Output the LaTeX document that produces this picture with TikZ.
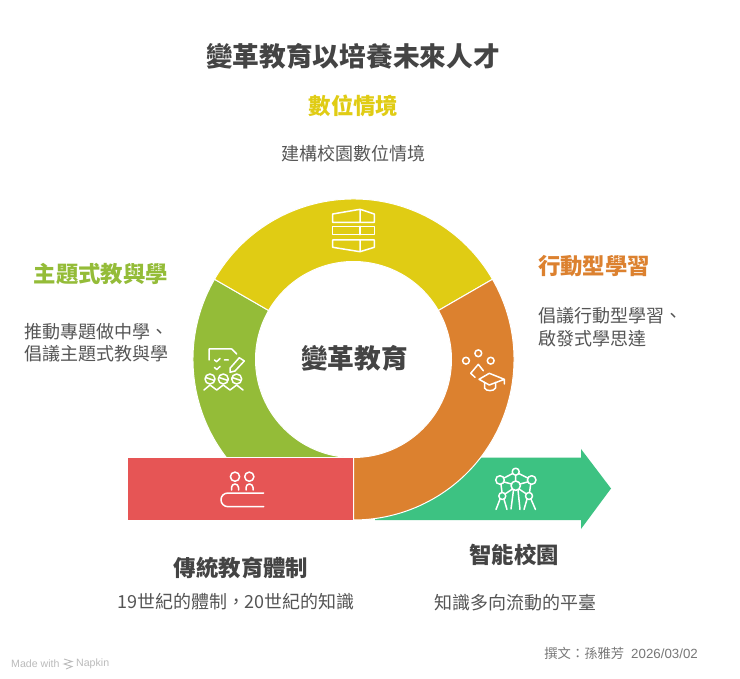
\documentclass[tikz,border=0pt]{standalone}
\usepackage{fontspec}
\setmainfont{Noto Sans CJK TC}
\newfontfamily\latinfont{Liberation Sans}
\definecolor{cyellow}{HTML}{E0CC14}
\definecolor{corange}{HTML}{DC812F}
\definecolor{cleaf}{HTML}{94BC38}
\definecolor{cred}{HTML}{E65555}
\definecolor{cgreen}{HTML}{3DC282}
\definecolor{ctitle}{HTML}{444444}
\definecolor{cbody}{HTML}{555555}
\definecolor{cfoot}{HTML}{777777}
\definecolor{cmade}{HTML}{BBBBBB}
\tikzset{
  seg/.style={draw=white,line width=1pt,line join=miter},
  icon/.style={draw=white,line width=1.5pt,line cap=round,line join=round},
  txt/.style={inner sep=0pt,outer sep=0pt,text=cbody,font=\fontsize{18}{23}\selectfont},
  head/.style={inner sep=0pt,outer sep=0pt,font=\bfseries\fontsize{22.4}{26}\selectfont},
}
\begin{document}
\begin{tikzpicture}[x=1pt,y=-1pt]
\useasboundingbox (0,0) rectangle (740,679);
\fill[white] (0,0) rectangle (740,679);
\coordinate (c) at (353.5,359.5);
% arrow
\fill[cgreen] (375,520) -- (375,457.5) -- (581,457.5) -- (581,449) -- (611,488.5) -- (581,529) -- (581,520) -- cycle;
% ring
\begin{scope}[shift={(c)},x=1pt,y=1pt]
\begin{scope}
\clip (-170,170) rectangle (0,-96.5);
\path[seg,fill=cleaf] (150:160.5) arc[start angle=150,end angle=270,radius=160.5] -- (270:98) arc[start angle=270,end angle=150,radius=98] -- cycle;
\end{scope}
\path[seg,fill=cyellow] (150:160.5) arc[start angle=150,end angle=30,radius=160.5] -- (30:98) arc[start angle=30,end angle=150,radius=98] -- cycle;
\path[seg,fill=corange] (30:160.5) arc[start angle=30,end angle=-90,radius=160.5] -- (-90:98) arc[start angle=-90,end angle=30,radius=98] -- cycle;
\end{scope}
\fill[cred] (127.5,457.5) rectangle (352.5,520);
% yellow icon
\draw[icon] (332.7,214) -- (360,209.3) -- (374.3,214) -- (374.3,222.3) -- (332.7,222.3) -- cycle (360,209.3) -- (360,222.3);
\draw[icon] (332.7,226.3) -- (374.3,226.3) -- (374.3,234.7) -- (332.7,234.7) -- cycle (360,226.3) -- (360,234.7);
\draw[icon] (332.7,240) -- (374.3,240) -- (374.3,247.3) -- (360,251.7) -- (332.7,247.3) -- cycle (360,240) -- (360,251.7);
% red icon
\draw[icon] (235,476.7) circle[radius=4.6] (249.3,476.7) circle[radius=4.6];
\draw[icon] (231.5,490) -- (231.5,487.5) arc[start angle=180,end angle=360,x radius=3.5,y radius=3.5] -- (238.5,490);
\draw[icon] (246,490) -- (246,487.5) arc[start angle=180,end angle=360,x radius=3.5,y radius=3.5] -- (253,490);
\draw[icon] (263.7,493) -- (228,493) .. controls (224,493) and (221,496) .. (221,499.8) .. controls (221,503.6) and (224,506.7) .. (228,506.7) -- (263.7,506.7);
% arrow icon
\draw[icon] (515.7,471.7) circle[radius=3.5] (500,480) circle[radius=4.3] (531.7,480) circle[radius=4.3] (515.7,485.7) circle[radius=4.7] (502.3,496) circle[radius=3.5] (529,496) circle[radius=3.5];
\draw[icon] (512.7,473.5) -- (504,478) (518.7,473.5) -- (527.7,478) (515.7,475.2) -- (515.7,481) (504,482) -- (511.5,484) (527.5,482) -- (520,484)
  (501,484.3) -- (502,492.5) (530.7,484.3) -- (529.5,492.5) (512.5,489) -- (505,494) (519,489) -- (526.5,494)
  (500,499.2) -- (496,509.5) (504,499.2) -- (507,509.5) (513.5,490) -- (511,509) (518,490) -- (520,509.5) (527,499.2) -- (524,509.5) (531,499.2) -- (535.5,509.5);
% orange icon
\draw[icon] (466,360.7) circle[radius=3.4] (478.3,353.3) circle[radius=3.4] (490.7,360.7) circle[radius=3.4];
\draw[icon] (475,377.3) -- (470.7,373.3) -- (478.3,364.3) -- (483.3,370.7);
\draw[icon] (479,379.3) -- (489.3,373.3) -- (504.3,379.3) -- (489.3,385) -- cycle (504.3,379.3) -- (504.3,384);
\draw[icon] (484.5,382.5) -- (484.5,388) .. controls (486,391.5) and (494,391.5) .. (495.5,388) -- (495.5,382.5);
% leaf icon
\draw[icon] (209,360) -- (209,349) -- (231.7,349) -- (236.7,354);
\draw[icon] (214.5,360) -- (216.7,361.7) -- (220,358.5) (214.5,367.5) -- (216.7,369.5) -- (220,366.5) (224.3,360) -- (228.3,360);
\draw[icon] (230,368.3) -- (239.3,357.7) -- (244.3,361) -- (235,371) -- (230,372.3) -- cycle;
\draw[icon] (210,379) circle[radius=5] (223.3,379) circle[radius=5] (236.7,379) circle[radius=5];
\draw[icon] (205.5,377.5) -- (214.5,380.5) (219,377.5) -- (228,380.5) (232,377.5) -- (241,380.5);
\draw[icon] (204,390) -- (210,385) -- (216.7,390) -- (223.3,385) -- (230,390) -- (236.7,385) -- (243,390);
% texts
\node[inner sep=0pt,text=ctitle,font=\bfseries\fontsize{26.7}{30}\selectfont] (title) at (353,56) {變革教育以培養未來人才};
\node[head,text=cyellow] (h1) at (353.5,106) {數位情境};
\node[txt] (b1) at (353.5,154) {建構校園數位情境};
\node[head,text=corange,anchor=west] (h2) at (538,266) {行動型學習};
\node[txt,anchor=west] (b2a) at (538,316) {倡議行動型學習、};
\node[txt,anchor=west] (b2b) at (538,339) {啟發式學思達};
\node[head,text=cleaf,anchor=east] (h3) at (168,274) {主題式教與學};
\node[txt,anchor=east] (b3a) at (168,332) {推動專題做中學、};
\node[txt,anchor=east] (b3b) at (168,354) {倡議主題式教與學};
\node[inner sep=0pt,text=ctitle,font=\bfseries\fontsize{26.7}{30}\selectfont] (center) at (354.5,358) {變革教育};
\node[head,text=ctitle] (h4) at (241,568) {傳統教育體制};
\node[txt] (b4) at (236,602) {19世紀的體制，20世紀的知識};
\node[head,text=ctitle] (h5) at (514,555) {智能校園};
\node[txt] (b5) at (515,603) {知識多向流動的平臺};
\node[inner sep=0pt,text=cfoot,font=\fontsize{13.3}{16}\selectfont,anchor=east] (sig) at (698,653) {撰文：孫雅芳\hspace{7pt}{\latinfont 2026/03/02}};
\node[inner sep=0pt,text=cmade,font=\latinfont\fontsize{10.6}{12}\selectfont,anchor=west] (made) at (11,663.5) {Made with};
\node[inner sep=0pt,text=cmade,font=\latinfont\fontsize{10.6}{12}\selectfont,anchor=west] (nap) at (76,663.5) {Napkin};
\draw[cmade,line width=0.9pt] (64,659) -- (72,661.5) -- (64,664) -- (72,666.5) -- (66,669);
\end{tikzpicture}
\end{document}
